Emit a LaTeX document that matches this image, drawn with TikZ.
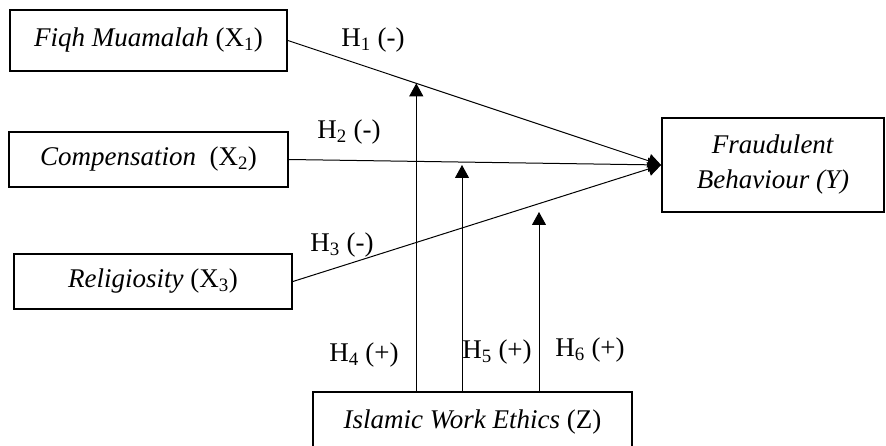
\documentclass[tikz,border=0pt]{standalone}
\usepackage{fontspec}
\setmainfont{Liberation Serif}
\usetikzlibrary{arrows.meta,calc}

\tikzset{
  varbox/.style={draw, line width=1.8pt, inner sep=0pt, align=center},
}

\begin{document}
\begin{tikzpicture}[x=1pt,y=-1pt,font=\fontsize{27}{35}\selectfont]
  \useasboundingbox (0,0) rectangle (886,446);
  \node[varbox, minimum width=277pt, minimum height=61pt] (fiqh)
    at (148.5,40.5) {\textit{Fiqh Muamalah} (X\textsubscript{1})};
  \node[varbox, minimum width=279pt, minimum height=55pt] (comp)
    at (148.5,159.5) {\textit{Compensation}\ \ (X\textsubscript{2})};
  \node[varbox, minimum width=278pt, minimum height=55pt] (relig)
    at (153,281.5) {\textit{Religiosity} (X\textsubscript{3})};
  \node[varbox, minimum width=222pt, minimum height=94pt] (fraud)
    at (773,165) {\textit{Fraudulent}\\\textit{Behaviour (Y)}};
  \node[varbox, minimum width=319pt, minimum height=60pt] (ethics)
    at (472.5,422) {\textit{Islamic Work Ethics} (Z)};
  % moderation points
  \coordinate (mod1) at ($(fiqh.east)!0.344!(fraud.west)$);
  \coordinate (mod2) at (462,165);
  \coordinate (mod3) at (539,212);
  \begin{scope}[
    every node/.style={inner sep=0pt},
    ]
    \node (h1) at (373,40)  {H\textsubscript{1} (-)};
    \node (h2) at (349,132) {H\textsubscript{2} (-)};
    \node (h3) at (342,245) {H\textsubscript{3} (-)};
    \node (h4) at (364,355) {H\textsubscript{4} (+)};
    \node (h5) at (497,352) {H\textsubscript{5} (+)};
    \node (h6) at (590,350) {H\textsubscript{6} (+)};
  \end{scope}
  \begin{scope}[
    every path/.style={line width=1pt,>={Triangle[width=14pt,length=13pt]}},
    ]
    \path
    (fiqh.east)  edge[->] (fraud.west)
    (comp.east)  edge[->] (fraud.west)
    (relig.east) edge[->] (fraud.west)
    (ethics.north -| mod1) edge[->] (mod1)
    (ethics.north -| mod2) edge[->] (mod2)
    (ethics.north -| mod3) edge[->] (mod3);
  \end{scope}
\end{tikzpicture}
\end{document}
